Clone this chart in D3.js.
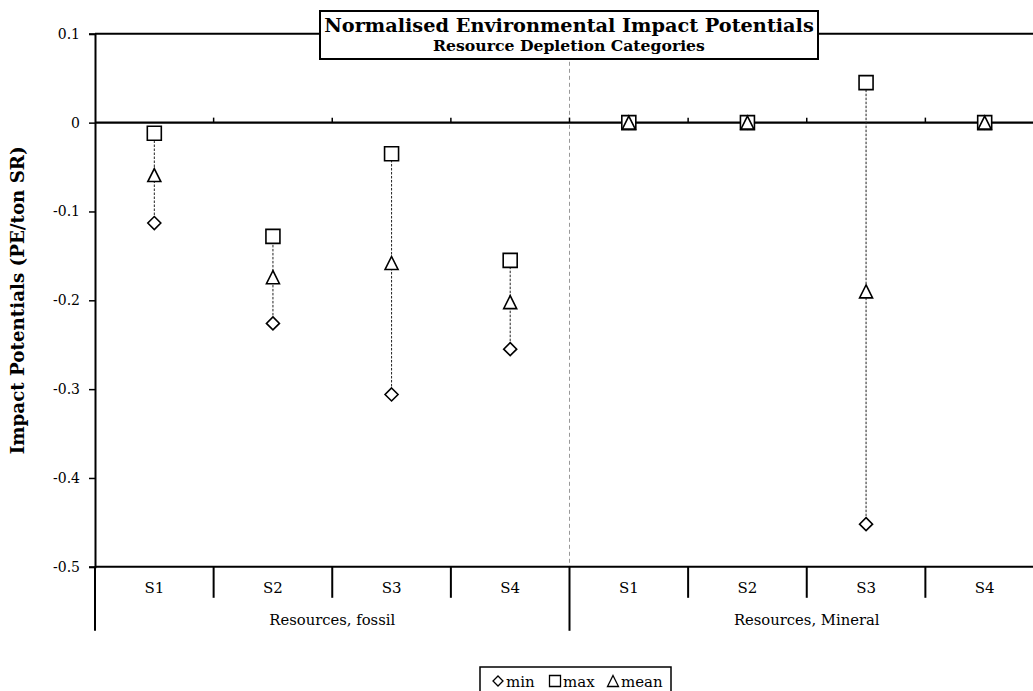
<!DOCTYPE html>
<html>
<head>
<meta charset="utf-8">
<script src="https://cdn.jsdelivr.net/npm/d3@7"></script>
<style>
  html, body { margin: 0; padding: 0; background: #fff; overflow: hidden; }
  svg { display: block; }
  text { font-family: "DejaVu Serif", "Liberation Serif", serif; fill: #000; }
</style>
</head>
<body>
<svg id="chart" width="1033" height="691"></svg>
<script>
// ---- data ----
const groups = ["Resources, fossil", "Resources, Mineral"];
const scenarios = ["S1", "S2", "S3", "S4"];
const minVals  = [-0.113, -0.226, -0.306, -0.255, 0, 0, -0.452, 0];
const maxVals  = [-0.012, -0.128, -0.035, -0.155, 0, 0,  0.045, 0];
const meanVals = [-0.059, -0.174, -0.158, -0.202, 0, 0, -0.190, 0];
const yTicks = [0.1, 0, -0.1, -0.2, -0.3, -0.4, -0.5];
const titleLines = ["Normalised Environmental Impact Potentials", "Resource Depletion Categories"];
const yLabel = "Impact Potentials (PE/ton SR)";
const legendItems = ["min", "max", "mean"];

// ---- layout ----
const svg = d3.select("#chart");
const L = 95, R = 1044, T = 33.8, B = 566.8;

const keys = [];
groups.forEach((g, gi) => scenarios.forEach(s => keys.push(gi + "|" + s)));
const x = d3.scaleBand().domain(keys).range([L, R]).padding(0);
const y = d3.scaleLinear().domain([-0.5, 0.1]).range([B, T]);

function fit(sel, target) {
  const n = sel.node();
  const fs = parseFloat(sel.attr("font-size"));
  const w = n.getComputedTextLength();
  if (w > 0) sel.attr("font-size", (fs * target / w).toFixed(2));
  return sel;
}

// dashed separator between groups
svg.append("line")
  .attr("x1", x(keys[4])).attr("x2", x(keys[4]))
  .attr("y1", y(0.1)).attr("y2", y(-0.5))
  .attr("stroke", "#999").attr("stroke-width", 1)
  .attr("stroke-dasharray", "4,3");

// top border line at 0.1
svg.append("line")
  .attr("x1", L).attr("x2", 1040).attr("y1", y(0.1)).attr("y2", y(0.1))
  .attr("stroke", "#000").attr("stroke-width", 2);

// left axis
const yAxis = d3.axisLeft(y).tickValues(yTicks).tickSize(6).tickPadding(9)
  .tickFormat(d => d === 0 ? "0" : String(d));
const gy = svg.append("g").attr("transform", `translate(${L},0)`).call(yAxis);
gy.select(".domain").attr("stroke-width", 2).attr("stroke", "#000");
gy.selectAll(".tick line").attr("stroke-width", 1.5);
gy.selectAll(".tick text").attr("font-size", 14).attr("font-family", '"DejaVu Serif", serif');

// zero line with upward ticks at band boundaries
svg.append("line")
  .attr("x1", L).attr("x2", 1040).attr("y1", y(0)).attr("y2", y(0))
  .attr("stroke", "#000").attr("stroke-width", 2.2);
keys.slice(1).forEach(k => {
  svg.append("line")
    .attr("x1", x(k)).attr("x2", x(k))
    .attr("y1", y(0)).attr("y2", y(0) - 5)
    .attr("stroke", "#000").attr("stroke-width", 1.5);
});

// bottom multi-level category axis
svg.append("line")
  .attr("x1", L).attr("x2", 1040).attr("y1", y(-0.5)).attr("y2", y(-0.5))
  .attr("stroke", "#000").attr("stroke-width", 2);
keys.forEach((k, i) => {
  const isGroupEdge = i % 4 === 0;
  svg.append("line")
    .attr("x1", x(k)).attr("x2", x(k))
    .attr("y1", y(-0.5)).attr("y2", y(-0.5) + (isGroupEdge ? 64 : 31))
    .attr("stroke", "#000").attr("stroke-width", 2);
  svg.append("text")
    .attr("x", x(k) + x.bandwidth() / 2).attr("y", y(-0.5) + 26)
    .attr("text-anchor", "middle").attr("font-size", 15)
    .text(k.split("|")[1]);
});
const gTexts = groups.map((g, gi) => {
  const k0 = keys[gi * 4];
  return svg.append("text")
    .attr("x", x(k0) + x.bandwidth() * 2).attr("y", y(-0.5) + 58)
    .attr("text-anchor", "middle").attr("font-size", 14)
    .text(g);
});
fit(gTexts[0], 126);
gTexts[1].attr("font-size", gTexts[0].attr("font-size"));

// y label
const yl = svg.append("text")
  .attr("transform", `translate(24,${(T + B) / 2}) rotate(-90)`)
  .attr("text-anchor", "middle").attr("font-size", 17).attr("font-weight", "bold")
  .text(yLabel);
fit(yl, 308);

// range lines min-max
svg.append("g").selectAll("line").data(keys).join("line")
  .attr("x1", d => x(d) + x.bandwidth() / 2)
  .attr("x2", d => x(d) + x.bandwidth() / 2)
  .attr("y1", (d, i) => y(minVals[i]))
  .attr("y2", (d, i) => y(maxVals[i]))
  .attr("stroke", "#222").attr("stroke-width", 1)
  .attr("stroke-dasharray", "2.5,1.5");

// markers
const cx = d => x(d) + x.bandwidth() / 2;
function diamond(s) { const h = s / 2; return `M0,${-h}L${h},0L0,${h}L${-h},0Z`; }
function square(s) { const h = s / 2; return `M${-h},${-h}H${h}V${h}H${-h}Z`; }
function triangle(s) { const h = s / 2; return `M0,${-h}L${h},${h}L${-h},${h}Z`; }

svg.append("g").selectAll("path").data(keys).join("path")
  .attr("d", diamond(13))
  .attr("transform", (d, i) => `translate(${cx(d)},${y(minVals[i])})`)
  .attr("fill", "#fff").attr("stroke", "#000").attr("stroke-width", 1.6);
svg.append("g").selectAll("path").data(keys).join("path")
  .attr("d", square(14))
  .attr("transform", (d, i) => `translate(${cx(d)},${y(maxVals[i])})`)
  .attr("fill", "#fff").attr("stroke", "#000").attr("stroke-width", 1.6);
svg.append("g").selectAll("path").data(keys).join("path")
  .attr("d", triangle(13))
  .attr("transform", (d, i) => `translate(${cx(d)},${y(meanVals[i])})`)
  .attr("fill", "#fff").attr("stroke", "#000").attr("stroke-width", 1.6);

// title box
svg.append("rect")
  .attr("x", 320).attr("y", 11).attr("width", 498).attr("height", 48)
  .attr("fill", "#fff").attr("stroke", "#000").attr("stroke-width", 2);
const t1 = svg.append("text")
  .attr("x", 569).attr("y", 32).attr("text-anchor", "middle")
  .attr("font-size", 18).attr("font-weight", "bold").text(titleLines[0]);
fit(t1, 490);
const t2 = svg.append("text")
  .attr("x", 569).attr("y", 51).attr("text-anchor", "middle")
  .attr("font-size", 14).attr("font-weight", "bold").text(titleLines[1]);
fit(t2, 272);

// legend
const lg = svg.append("g");
lg.append("rect")
  .attr("x", 480).attr("y", 667).attr("width", 191).attr("height", 40)
  .attr("fill", "#fff").attr("stroke", "#000").attr("stroke-width", 1.5);
const legShapes = [diamond(10), square(11), triangle(11)];
const legX = [498, 555, 613];
legendItems.forEach((name, i) => {
  lg.append("path").attr("d", legShapes[i])
    .attr("transform", `translate(${legX[i]},${681})`)
    .attr("fill", "#fff").attr("stroke", "#000").attr("stroke-width", 1.3);
  lg.append("text").attr("x", legX[i] + 8).attr("y", 687)
    .attr("font-size", 15).text(name);
});
</script>
</body>
</html>
